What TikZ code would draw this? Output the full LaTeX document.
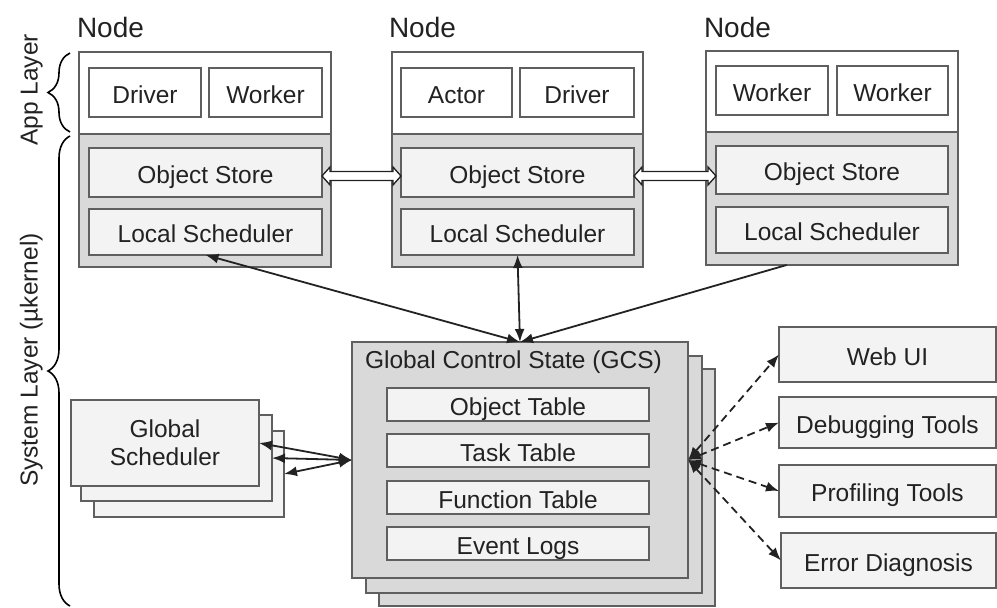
\documentclass[tikz,border=0pt]{standalone}
\usepackage{fontspec}
\setmainfont{Liberation Sans}
\usetikzlibrary{arrows.meta,calc,decorations.pathreplacing}
\definecolor{sysgray}{HTML}{D9D9D9}
\definecolor{lightfill}{HTML}{F3F3F3}
\definecolor{bordergray}{HTML}{5F5F5F}
\definecolor{txt}{HTML}{222222}
\newcommand\mybox[7]{\node[#1, minimum width={(#5-#3)*1pt}, minimum height={(#6-#4)*1pt}] (#2) at ({(#3+#5)/2},{(#4+#6)/2}) {#7};}
\begin{document}
\begin{tikzpicture}[x=1pt,y=-1pt,
 every node/.style={inner sep=0pt, outer sep=0pt, text=txt, font=\fontsize{24.5}{28}\selectfont, text height=21.5pt, text depth=0pt},
 boxframe/.style={draw=bordergray, line width=1.5pt},
 appbox/.style={boxframe, fill=white},
 sysbox/.style={boxframe, fill=sysgray},
 inbox/.style={boxframe, fill=lightfill},
 whitebox/.style={boxframe, fill=white},
 conn/.style={draw=txt, line width=1.8pt, {Latex[length=13pt,width=10pt]}-{Latex[length=13pt,width=10pt]}},
 oneway/.style={draw=txt, line width=1.8pt, -{Latex[length=13pt,width=10pt]}},
 dashconn/.style={conn, dash pattern=on 8pt off 5pt},
 dblarr/.style={draw=txt, line width=1.3pt, fill=white},
 bracestyle/.style={draw=black, line width=1.6pt, decorate, decoration={brace, amplitude=22pt}},
 nodetitle/.style={anchor=base west, font=\fontsize{28}{32}\selectfont, text height={}, text depth={}},
 sidelabel/.style={rotate=90, text height=17.5pt},
]
\useasboundingbox (0,0) rectangle (997,608);

% ---------- Node 1 ----------
\mybox{appbox}{n1}{79}{52}{331}{267}{}
\mybox{sysbox}{s1}{79}{134}{331}{267}{}
\mybox{whitebox}{d1}{89}{68}{201}{117}{Driver}
\mybox{whitebox}{w1}{209}{68}{322}{117}{Worker}
\mybox{inbox}{os1}{89}{148}{322}{197}{Object Store}
\mybox{inbox}{ls1}{89}{209}{322}{255}{Local Scheduler}
\node[nodetitle] (t1) at (77,37) {Node};

% ---------- Node 2 ----------
\mybox{appbox}{n2}{392}{52}{643}{267}{}
\mybox{sysbox}{s2}{392}{134}{643}{267}{}
\mybox{whitebox}{a2}{401}{68}{512}{117}{Actor}
\mybox{whitebox}{d2}{520}{68}{634}{117}{Driver}
\mybox{inbox}{os2}{401}{148}{634}{197}{Object Store}
\mybox{inbox}{ls2}{401}{209}{634}{255}{Local Scheduler}
\node[nodetitle] (t2) at (389,37) {Node};

% ---------- Node 3 ----------
\mybox{appbox}{n3}{706}{51}{958}{265}{}
\mybox{sysbox}{s3}{706}{132}{958}{265}{}
\mybox{whitebox}{w3a}{716}{66}{828}{115}{Worker}
\mybox{whitebox}{w3b}{837}{66}{948}{115}{Worker}
\mybox{inbox}{os3}{716}{146}{948}{194}{Object Store}
\mybox{inbox}{ls3}{716}{207}{948}{253}{Local Scheduler}
\node[nodetitle] (t3) at (704,37) {Node};

% ---------- object store transfer arrows ----------
\coordinate (da) at ($(os1.east)+(0,3.5)$);
\coordinate (db) at (os2.west |- da);
\coordinate (dc) at (os2.east |- da);
\coordinate (dd) at (os3.west |- da);
\draw[dblarr] let \p1=(da), \p2=(db) in (\x1,\y1) -- ++(8pt,9pt) -- ++(0,-4.5pt) -- (\x2-8pt,\y1+4.5pt) -- ++(0,4.5pt) -- (\x2,\y1) -- ++(-8pt,-9pt) -- ++(0,4.5pt) -- (\x1+8pt,\y1-4.5pt) -- ++(0,-4.5pt) -- cycle;
\draw[dblarr] let \p1=(dc), \p2=(dd) in (\x1,\y1) -- ++(8pt,9pt) -- ++(0,-4.5pt) -- (\x2-8pt,\y1+4.5pt) -- ++(0,4.5pt) -- (\x2,\y1) -- ++(-8pt,-9pt) -- ++(0,4.5pt) -- (\x1+8pt,\y1-4.5pt) -- ++(0,-4.5pt) -- cycle;

% ---------- GCS ----------
\mybox{sysbox}{gcs3}{379}{369}{715}{606}{}
\mybox{sysbox}{gcs2}{366}{356}{702}{593}{}
\mybox{sysbox}{gcs}{352}{342}{688}{578}{}
\node[anchor=base west, text height={}, text depth={}] (gcst) at (365,368) {Global Control State (GCS)};
\mybox{inbox}{ot}{387}{388}{649}{421}{Object Table}
\mybox{inbox}{tt}{387}{434}{649}{467}{Task Table}
\mybox{inbox}{ft}{387}{481}{649}{514}{Function Table}
\mybox{inbox}{el}{387}{527}{649}{560}{Event Logs}

% ---------- Global scheduler ----------
\mybox{inbox}{gs3}{94}{431}{284}{517}{}
\mybox{inbox}{gs2}{81}{415}{272}{501}{}
\mybox{inbox,align=center,text height={},text depth={}}{gs}{71}{400}{259}{486}{\rule{0pt}{0pt}Global\\Scheduler}

% ---------- tools ----------
\mybox{inbox}{web}{779}{327}{996}{382}{Web UI}
\mybox{inbox}{dbg}{779}{397}{996}{448}{Debugging Tools}
\mybox{inbox}{prof}{779}{465}{996}{517}{Profiling Tools}
\mybox{inbox}{err}{781}{533}{996}{588}{Error Diagnosis}

% ---------- connectors ----------
\draw[conn] (ls1.south) -- (gcs.north);
\draw[conn] (ls2.south) -- (gcs.north);
\draw[oneway] ($(n3.south west)!0.32!(n3.south east)$) -- (gcs.north);

\draw[conn] (gs.east) -- (gcs.west);
\draw[conn] (gs2.east) -- (gcs.west);
\draw[conn] (gs3.east) -- (gcs.west);

\draw[dashconn] (gcs.east) -- (web.west);
\draw[dashconn] (gcs.east) -- (dbg.west);
\draw[dashconn] (gcs.east) -- (prof.west);
\draw[dashconn] (gcs.east) -- (err.west);

% ---------- layer braces ----------
\coordinate (ab1) at (70,132);
\coordinate (ab2) at (70,53);
\coordinate (sb1) at (70,606);
\coordinate (sb2) at (70,136);
\draw[bracestyle] (ab1) -- (ab2);
\draw[bracestyle] (sb1) -- (sb2);
\node[sidelabel] (applab) at (29,90) {App Layer};
\node[sidelabel] (syslab) at (29,360) {System Layer (µkernel)};
\end{tikzpicture}
\end{document}
